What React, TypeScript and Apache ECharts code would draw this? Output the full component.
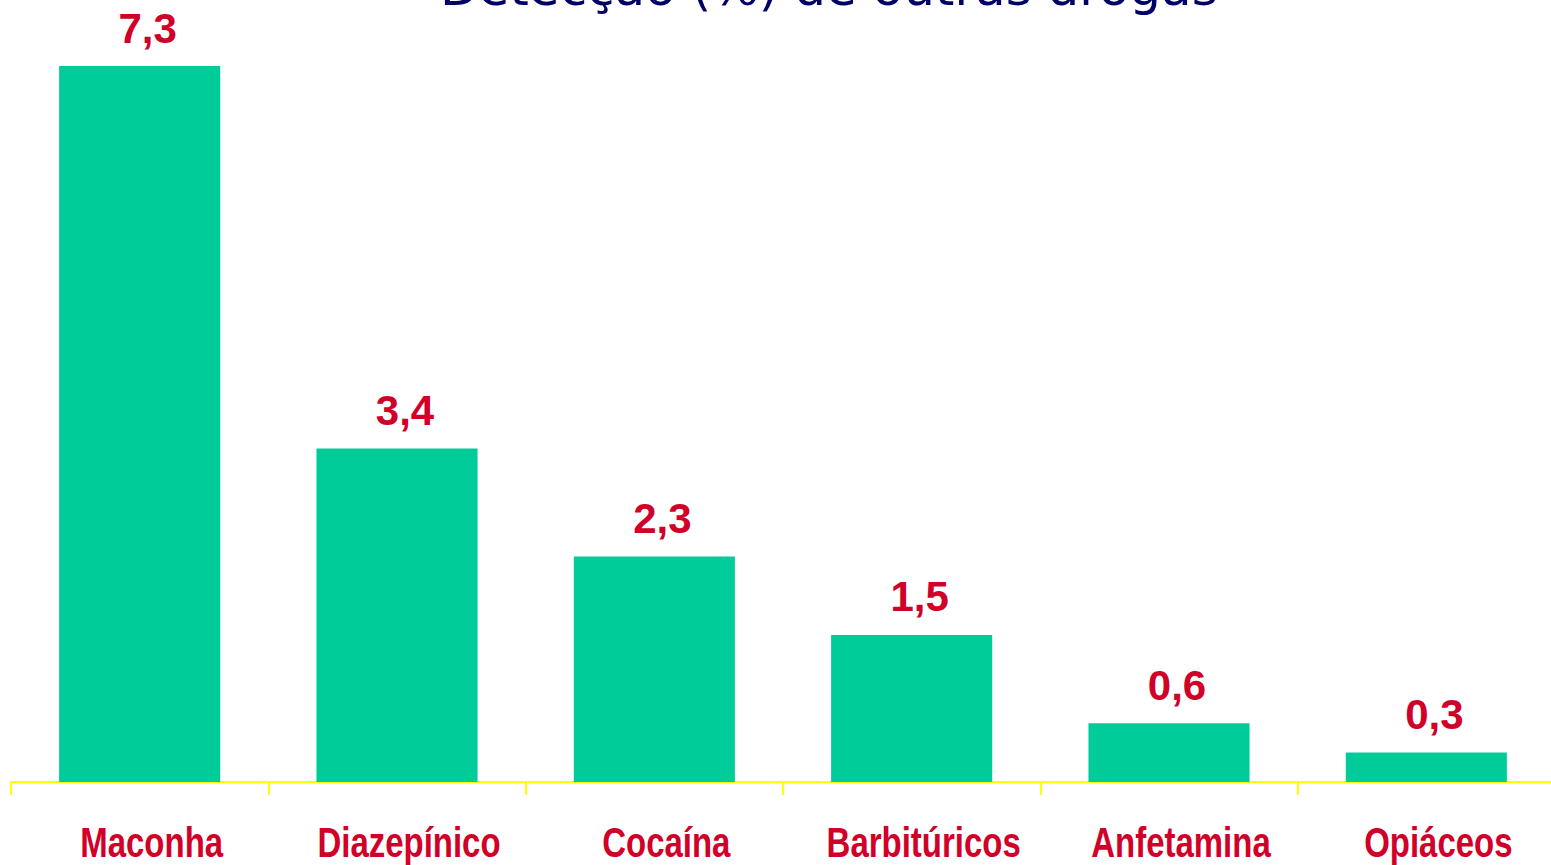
import React, { useEffect, useRef } from "react";
import * as echarts from "echarts";

const categories = ["Maconha", "Diazepínico", "Cocaína", "Barbitúricos", "Anfetamina", "Opiáceos"];
const values = [7.3, 3.4, 2.3, 1.5, 0.6, 0.3];
const titleText = "Detecção (%) de outras drogas";

const RED = "#D10029";
const SHADOW = "rgba(110,110,110,0.55)";

export default function App() {
  const ref = useRef<HTMLDivElement>(null);
  useEffect(() => {
    document.body.style.overflow = "hidden";
    const chart = echarts.init(ref.current!, null, { renderer: "svg" });
    chart.setOption({
      animation: false,
      backgroundColor: "#ffffff",
      graphic: [
        {
          type: "text",
          left: 440,
          top: -37,
          style: {
            text: titleText,
            fontSize: 50,
            fontFamily: "'Comic Sans MS', 'DejaVu Sans', sans-serif",
            fill: "#000066",
          },
        },
      ],
      grid: { left: 11, top: 66, width: 1544, bottom: 83, containLabel: false },
      xAxis: {
        type: "category",
        data: categories,
        axisLine: { show: true, lineStyle: { color: "#FFFF00", width: 2 } },
        axisTick: { show: true, interval: 0, length: 13, lineStyle: { color: "#FFFF00", width: 2 } },
        axisLabel: { show: false },
      },
      yAxis: {
        type: "value",
        min: 0,
        max: 7.3,
        show: false,
        splitLine: { show: false },
      },
      series: [
        {
          type: "bar",
          data: values,
          barWidth: "62.6%",
          itemStyle: { color: "#00CC99" },
          label: {
            show: true,
            position: "top",
            distance: 17,
            offset: [8, 0],
            formatter: (p: any) => String(p.value).replace(".", ","),
            color: RED,
            fontSize: 42,
            fontWeight: "bold",
            fontFamily: "'Liberation Sans', Arial, sans-serif",
            textShadowColor: SHADOW,
            textShadowOffsetX: 2,
            textShadowOffsetY: 2,
            textShadowBlur: 0,
          },
        },
        {
          type: "custom",
          clip: false,
          silent: true,
          data: categories.map((c, i) => [i, 0, c]),
          renderItem: (params: any, api: any) => {
            const i = api.value(0);
            const pt = api.coord([i, 0]);
            return {
              type: "text",
              x: pt[0] + 12,
              y: pt[1] + 61,
              scaleX: 0.785,
              style: {
                text: categories[i],
                fontSize: 42,
                fontWeight: "bold",
                fontFamily: "'Liberation Sans', Arial, sans-serif",
                fill: RED,
                align: "center",
                verticalAlign: "middle",
                textShadowColor: SHADOW,
                textShadowOffsetX: 2,
                textShadowOffsetY: 2,
                textShadowBlur: 0,
              },
            };
          },
        },
      ],
    });
    return () => chart.dispose();
  }, []);
  return (
    <div
      ref={ref}
      style={{ position: "fixed", left: 0, top: 0, width: 1558, height: 865 }}
    />
  );
}
